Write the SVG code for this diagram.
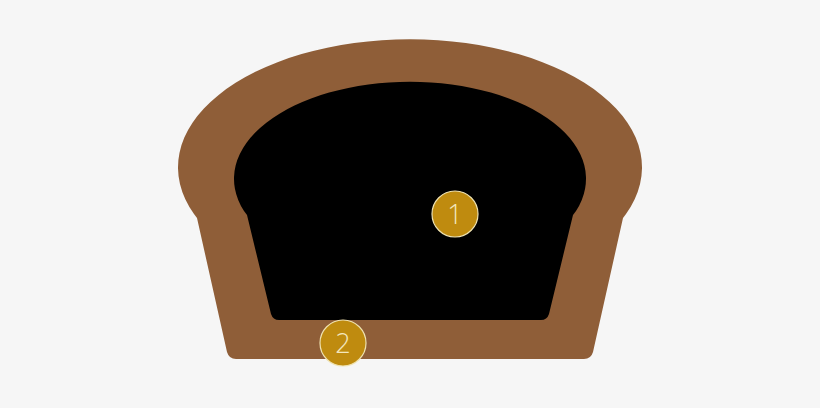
<svg xmlns="http://www.w3.org/2000/svg" width="820" height="408" viewBox="0 0 820 408">
<style>
.badge{fill:#bf8b0f;stroke:#efe2b0;stroke-width:1.2}
.lbl{font-family:"Open Sans","Liberation Sans",sans-serif;font-weight:300;font-size:27px;fill:#f3e6bd;text-anchor:middle}
</style>
<rect width="820" height="408" fill="#f6f6f6"/>
<g id="crust">
<path d="M 194 214 A 232 128 0 1 1 626 214 L 623 218 L 593 352 Q 591 359 584 359 L 236 359 Q 229 359 227 352 L 197 218 Z" fill="#8f5e38"/>
</g>
<g id="crumb">
<path d="M 244 211 A 176 97 0 1 1 576 211 L 573 215 L 549 314 Q 547 320 541 320 L 279 320 Q 273 320 271 314 L 247 215 Z" fill="#000"/>
</g>
<g id="badge1">
<circle class="badge" cx="455" cy="214" r="23"/>
<text class="lbl" x="455" y="224">1</text>
</g>
<g id="badge2">
<circle class="badge" cx="343" cy="343" r="23"/>
<text class="lbl" x="343" y="353">2</text>
</g>
</svg>
